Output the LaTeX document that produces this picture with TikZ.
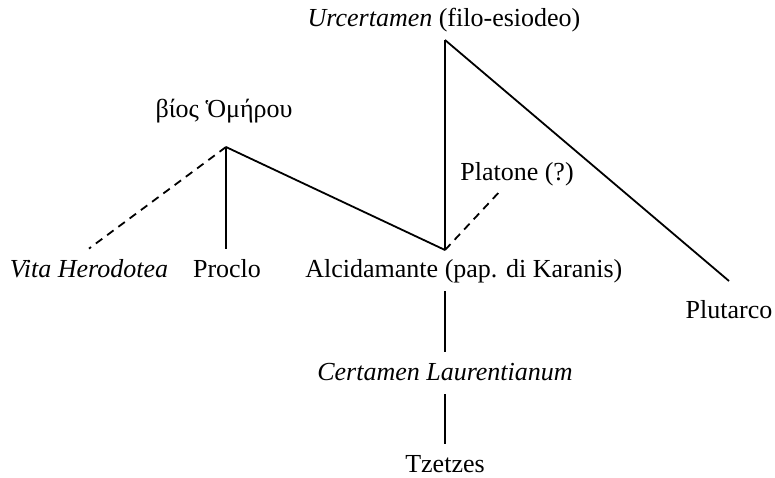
\documentclass[tikz,border=0pt]{standalone}
\usepackage{fontspec}
\setmainfont{Liberation Serif}

\tikzset{
  lbl/.style={anchor=base, font=\fontsize{13}{15}\selectfont, text height=9pt, text depth=2pt, inner sep=5pt},
  link/.style={line width=0.9pt},
  maybe/.style={link, dash pattern=on 4pt off 3pt}
}

\begin{document}
\begin{tikzpicture}[x=0.5pt, y=-0.5pt]
\useasboundingbox (0,0) rectangle (775,477);

% Top of the tree
\node[lbl] (urcert) at (444, 26) {\textit{Urcertamen} (filo-esiodeo)};
\node[lbl] (bios) at (224, 117) {βίος Ὁμήρου};
\node[lbl] (platone) at (517, 180) {Platone (?)};

% Witnesses of the middle row
\node[lbl] (vita) at (89, 277) {\textit{Vita Herodotea}};
\node[lbl] (proclo) at (227, 277) {Proclo};
\node[lbl, anchor=base west] (alcid) at (295, 277) {Alcidamante (pap. di Karanis)};
\node[lbl] (plutarco) at (729, 318) {Plutarco};

% Lower branch
\node[lbl] (certlaur) at (445, 380) {\textit{Certamen Laurentianum}};
\node[lbl] (tzetzes) at (445, 472) {Tzetzes};

% Branching points
\coordinate (urc-v) at (445, 40);
\coordinate (bios-v) at (226, 147);
\coordinate (alc-v) at (445, 250);
\coordinate (plut-end) at (729, 281);
\coordinate (plat-end) at (502, 189);

% Lines
\draw[link] (urc-v) -- (alc-v);
\draw[link] (urc-v) -- (plut-end);
\draw[link] (bios-v) -- (bios-v |- proclo.north);
\draw[link] (bios-v) -- (alc-v);
\draw[maybe] (bios-v) -- (vita.north);
\draw[maybe] (alc-v) -- (plat-end);
\draw[link] (alc-v |- alcid.south) -- (certlaur.north);
\draw[link] (certlaur.south) -- (tzetzes.north);

\end{tikzpicture}
\end{document}
